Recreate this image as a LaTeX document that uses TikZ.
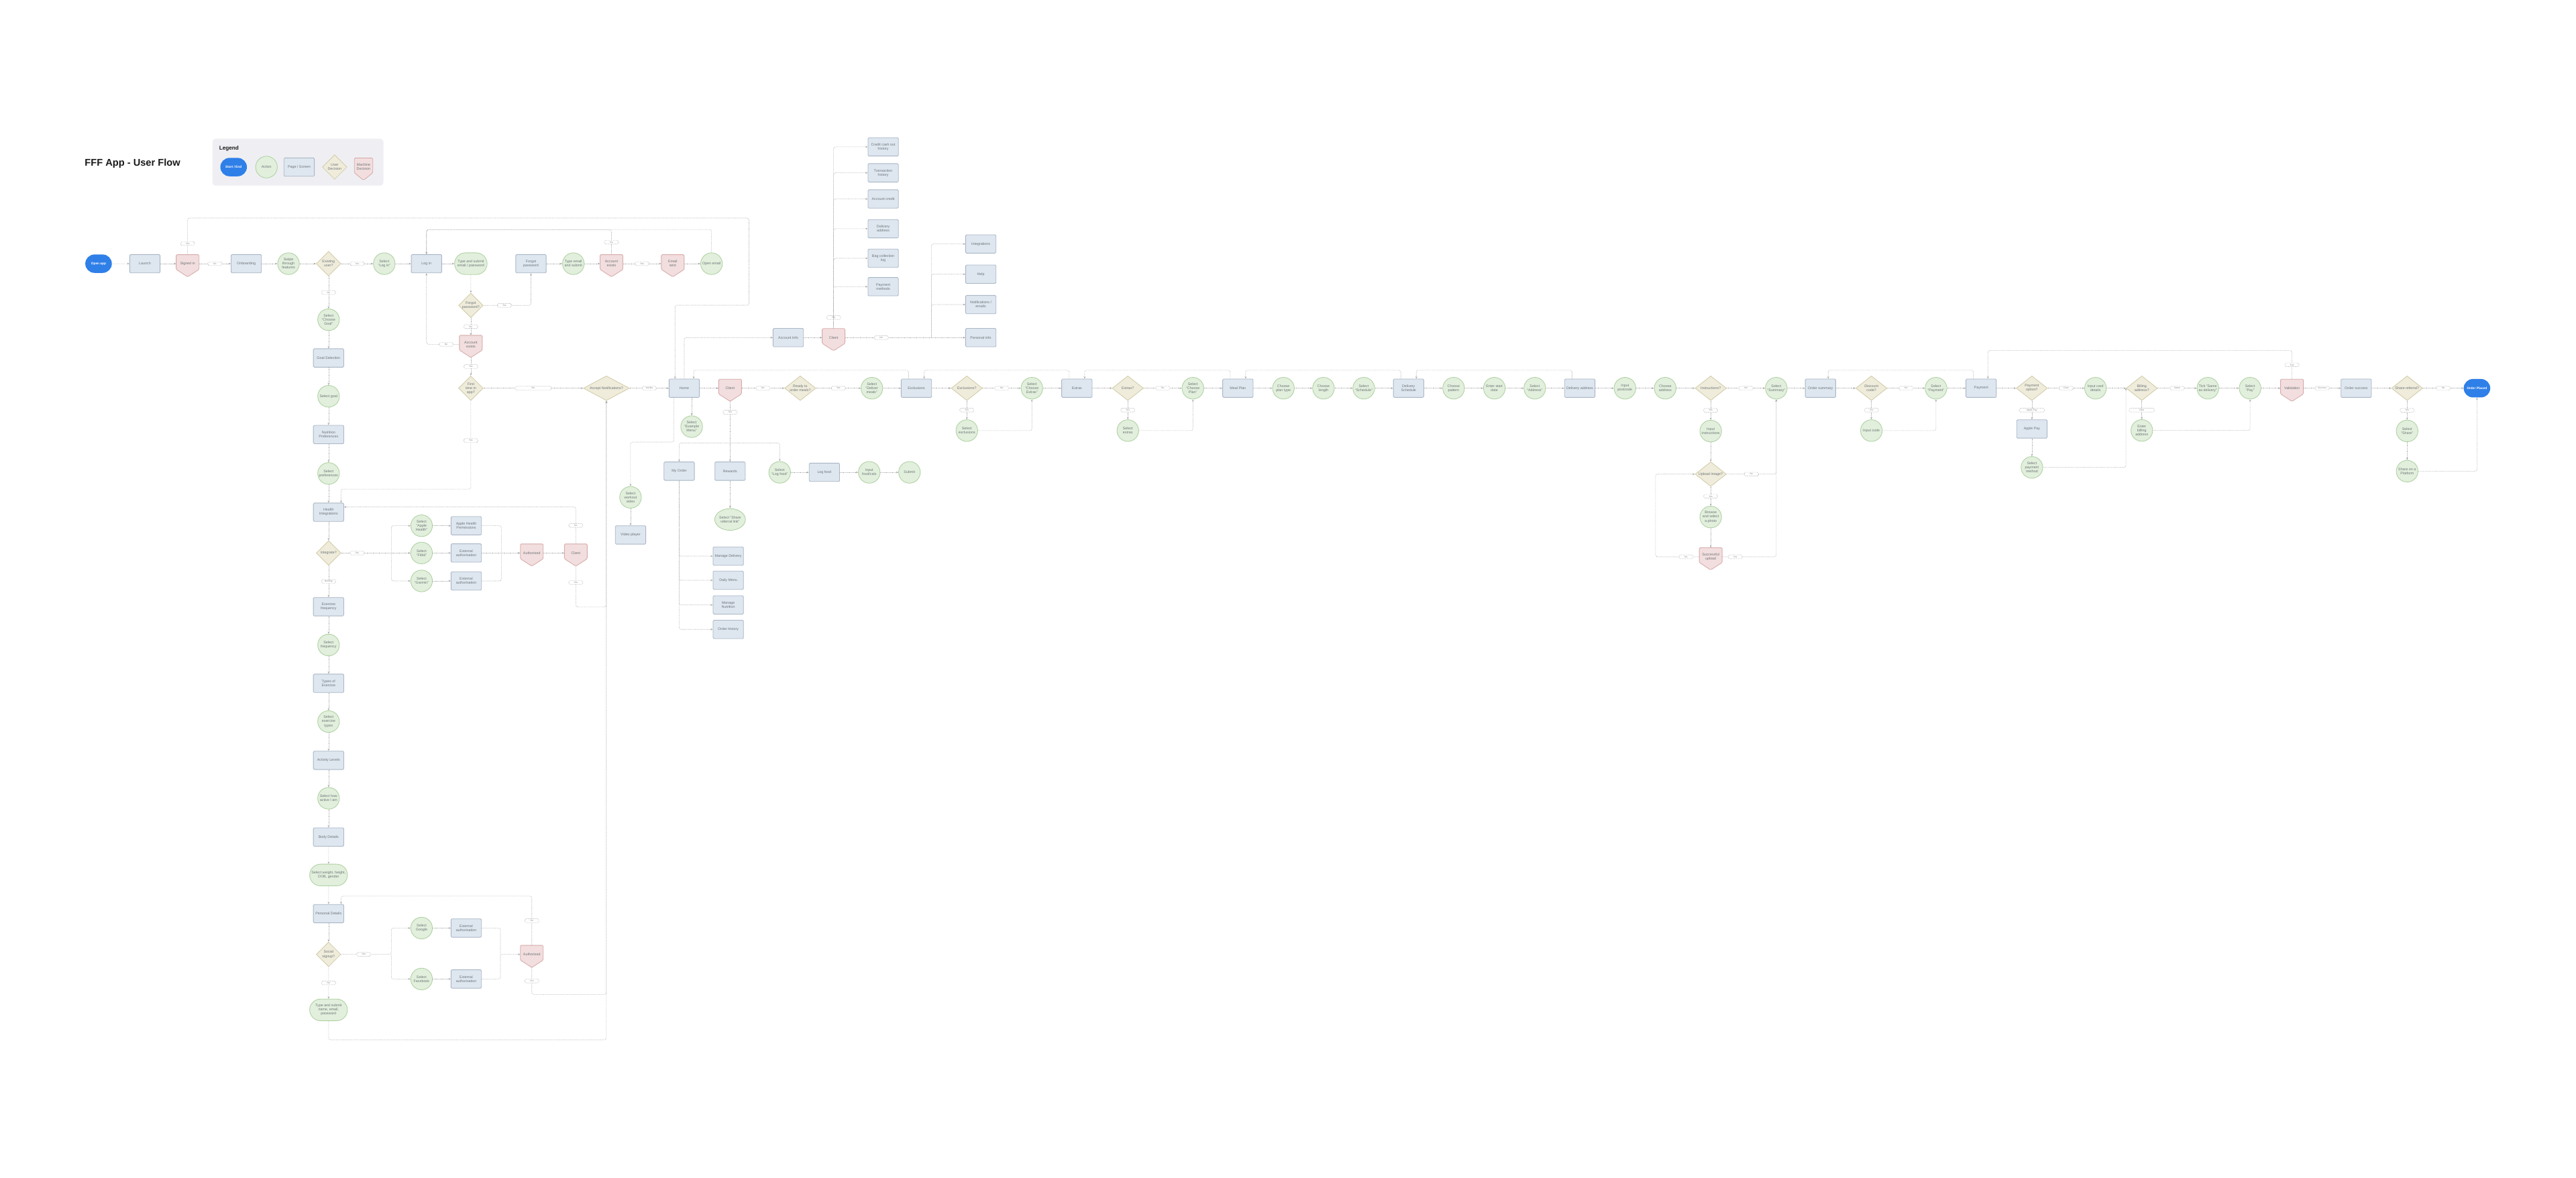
\documentclass[tikz,border=0pt]{standalone}
\usepackage{fontspec}
\setmainfont{Liberation Sans}
\usetikzlibrary{shapes.geometric,shapes.misc,arrows.meta,calc}
\definecolor{pagefill}{HTML}{DEE6EF}
\definecolor{pageline}{HTML}{A9B7C6}
\definecolor{actfill}{HTML}{E1EFDC}
\definecolor{actline}{HTML}{AFD1A2}
\definecolor{udecfill}{HTML}{EFECDB}
\definecolor{udecline}{HTML}{D2CCA9}
\definecolor{machfill}{HTML}{F2DEDE}
\definecolor{machline}{HTML}{D8AAAA}
\definecolor{startfill}{HTML}{2F7FE8}
\definecolor{linecol}{HTML}{A8A8A8}
\definecolor{txtcol}{HTML}{6F757A}
\definecolor{legendfill}{HTML}{EFEFF3}
\newcommand{\machnode}[4][6.95]{%
  \filldraw[machshape] ($(#3)+(-#1,-5.5)$) -- ($(#3)+(#1,-5.5)$) -- ($(#3)+(#1,3.5)$)
    -- ($(#3)+(0,8)$) -- ($(#3)+(-#1,3.5)$) -- cycle;
  \node[mach] (#2) at (#3) {#4};
  \coordinate (#2-tip) at ($(#3)+(0,8)$);}

\begin{document}
\begin{tikzpicture}[x=1mm,y=-1mm,
  every node/.style={font=\fontsize{6.2}{7}\selectfont, text=txtcol, align=center},
  page/.style={draw=pageline, fill=pagefill, rounded corners=0.6mm, minimum width=18.5mm, minimum height=11.2mm, inner sep=0.5mm, line width=1pt},
  act/.style={circle, draw=actline, fill=actfill, minimum size=13.2mm, inner sep=0.2mm, line width=1pt},
  actwide/.style={rounded rectangle, draw=actline, fill=actfill, minimum width=20.8mm, minimum height=13.2mm, inner sep=0.5mm, line width=1pt},
  actoval/.style={ellipse, draw=actline, fill=actfill, minimum width=16.6mm, minimum height=13.2mm, inner sep=0pt, line width=1pt},
  udec/.style={diamond, draw=udecline, fill=udecfill, minimum width=15mm, minimum height=15mm, inner sep=0pt, aspect=1, line width=1pt},
  udecw/.style={udec, minimum width=19mm, aspect=1.27},
  mach/.style={minimum width=13.9mm, minimum height=11mm, inner sep=0pt},
  machshape/.style={draw=machline, fill=machfill, rounded corners=0.6mm, line width=1pt},
  startend/.style={rounded rectangle, fill=startfill, text=white, font=\bfseries\fontsize{5.6}{6.5}\selectfont, minimum width=18.5mm, minimum height=11.2mm},
  lbl/.style={draw=linecol, dash pattern=on 0.8pt off 0.8pt, rounded corners=0.8mm, fill=white, font=\fontsize{4}{4.5}\selectfont, text=linecol!80!black, minimum width=8.6mm, minimum height=2.3mm, inner sep=0.2mm, line width=0.5pt},
  flow/.style={draw=linecol, line width=0.7pt, dash pattern=on 0.9pt off 1.2pt, rounded corners=1.2mm, ->},
  >={Stealth[length=1.4mm,width=1.1mm]}]
\fill[white] (0,0) rectangle (1568,717);
\useasboundingbox (0,0) rectangle (1568,717);

\node[anchor=west, font=\bfseries\fontsize{17}{20}\selectfont, text=black!90] (title) at (50.4,99.4) {FFF App - User Flow};
\fill[legendfill, rounded corners=2mm] (129.3,84.4) rectangle (233.4,113);
\node[anchor=west, font=\bfseries\fontsize{9.5}{11}\selectfont, text=black!90] (legend) at (132.2,90.4) {Legend};
\node[startend] (lgstart) at (142.2,101.7) {Start / End};
\node[act] (lgact) at (162.2,101.7) {Action};
\node[page] (lgpage) at (182.1,101.7) {Page / Screen};
\node[udec] (lgudec) at (203.7,101.7) {User\\Decision};
\machnode[5.6]{lgmach}{221.3,101.7}{Machine\\Decision}

\node[startend] (openapp) at (60,160.5) {Open app};
\node[page] (launch) at (88.2,160.5) {Launch};
\machnode{signedin}{114.2,160.5}{Signed in}
\node[page] (onboard) at (149.9,160.5) {Onboarding};
\node[act] (swipe) at (175.6,160.5) {Swipe\\through\\features};
\node[udec] (existing) at (200,160.5) {Existing\\user?};
\node[act] (sellogin) at (233.9,160.5) {Select\\“Log in”};
\node[page] (login) at (259.6,160.5) {Log in};
\node[actwide] (typelogin) at (286.6,160.5) {Type and submit\\email / password};
\node[page] (forgotpw) at (323.2,160.5) {Forgot\\password};
\node[act] (typereset) at (349,160.5) {Type email\\and submit};
\machnode{accexists}{372.2,160.5}{Account\\exists}
\machnode{emailsent}{409.5,160.5}{Email\\sent}
\node[act] (openemail) at (433.1,160.5) {Open email};
\node[udec] (forgotq) at (286.6,185.9) {Forgot\\password?};
\machnode{accexists2}{286.6,209.6}{Account\\exists}
\node[udec] (firsttime) at (286.6,236.3) {First\\time in\\app?};
\node[udec, minimum width=28mm, aspect=1.87] (accept) at (369.1,236.3) {Accept Notifications?};

\node[act] (selgoal) at (200,194.6) {Select\\“Choose\\Goal”};
\node[page] (goalsel) at (200,217.9) {Goal Selection};
\node[act] (pickgoal) at (200,241.2) {Select goal};
\node[page] (nutrition) at (200,264.5) {Nutrition\\Preferences};
\node[act] (pickpref) at (200,288.2) {Select\\preferences};
\node[page] (health) at (200,311.8) {Health\\Integrations};
\node[udec] (integrate) at (200,336.6) {Integrate?};
\node[page] (exfreq) at (200,369.3) {Exercise\\frequency};
\node[act] (pickfreq) at (200,392.6) {Select\\frequency};
\node[page] (extypes) at (200,415.9) {Types of\\Exercise};
\node[act] (picktypes) at (200,439.2) {Select\\exercise\\types};
\node[page] (activity) at (200,462.8) {Activity Levels};
\node[act] (pickactive) at (200,485.9) {Select how\\active I am};
\node[page] (body) at (200,509.5) {Body Details};
\node[actwide, minimum width=24mm] (pickbody) at (200,532.6) {Select weight, height,\\DOB, gender};
\node[page] (personal) at (200,556.1) {Personal Details};
\node[udec] (social) at (200,580.9) {Social\\signup?};
\node[actwide, minimum width=24mm] (typename) at (200,614.7) {Type and submit\\name, email,\\password};

\node[act] (selapple) at (256.6,320) {Select\\“Apple\\Health”};
\node[act] (selfitbit) at (256.6,336.6) {Select\\“Fitbit”};
\node[act] (selgarmin) at (256.6,353.6) {Select\\“Garmin”};
\node[page] (applehp) at (283.8,320) {Apple Health\\Permissions};
\node[page] (extfitbit) at (283.8,336.6) {External\\authorisation};
\node[page] (extgarmin) at (283.8,353.6) {External\\authorisation};
\machnode{authint}{323.7,336.6}{Authorised}
\machnode{clientint}{350.5,336.6}{Client}
\node[act] (selgoogle) at (256.6,564.9) {Select\\Google};
\node[act] (selfb) at (256.6,595.9) {Select\\Facebook};
\node[page] (extgoogle) at (283.8,564.9) {External\\authorisation};
\node[page] (extfb) at (283.8,595.9) {External\\authorisation};
\machnode{authsoc}{323.7,580.9}{Authorised}

\node[page] (home) at (416.5,236.3) {Home};
\machnode{clienthome}{444.4,236.3}{Client}
\node[udecw] (readyq) at (487.1,236.3) {Ready to\\order meals?};
\node[act] (seldeliver) at (530.7,236.3) {Select\\“Deliver\\meals”};
\node[act] (selexample) at (421,259.7) {Select\\“Example\\Menu”};
\node[act] (selworkout) at (383.8,302.7) {Select\\workout\\video};
\node[page] (video) at (383.8,325.6) {Video player};
\node[page] (myorder) at (413.4,286.8) {My Order};
\node[page] (rewards) at (444.4,286.8) {Rewards};
\node[act] (sellogfood) at (474.6,287.5) {Select\\“Log food”};
\node[page] (logfood) at (501.8,287.5) {Log food};
\node[act] (inputfood) at (529.1,287.5) {Input\\food/cals};
\node[act] (submit) at (553.6,287.5) {Submit};
\node[actoval] (selshare) at (444.4,316.2) {Select “Share\\referral link”};
\node[page] (managedel) at (443.3,338.5) {Manage Delivery};
\node[page] (dailymenu) at (443.3,353.2) {Daily Menu};
\node[page] (managenut) at (443.3,368.2) {Manage\\Nutrition};
\node[page] (orderhist) at (443.3,383.1) {Order history};

\node[page] (accinfo) at (479.8,205.5) {Account Info};
\machnode{clientacc}{507.4,205.5}{Client}
\node[page] (cashout) at (537.6,89.4) {Credit cash out\\history};
\node[page] (transhist) at (537.6,105.2) {Transaction\\history};
\node[page] (acccredit) at (537.6,121.1) {Account credit};
\node[page] (deladdress) at (537.6,139.2) {Delivery\\address};
\node[page] (baglog) at (537.6,157.2) {Bag collection\\log};
\node[page] (paymethods) at (537.6,174.5) {Payment\\methods};
\node[page] (integrations) at (597,148.5) {Integrations};
\node[page] (help) at (597,166.9) {Help};
\node[page] (notif) at (597,185.4) {Notifications /\\emails};
\node[page] (personalinfo) at (597,205.5) {Personal info};

\node[page] (exclusions) at (557.8,236.3) {Exclusions};
\node[udecw] (exclq) at (588.5,236.3) {Exclusions?};
\node[act] (selextras) at (628.1,236.3) {Select\\“Choose\\Extras”};
\node[act] (pickexcl) at (588.5,262.1) {Select\\exclusions};
\node[page] (extras) at (655.5,236.3) {Extras};
\node[udecw] (extrasq) at (686.5,236.3) {Extras?};
\node[act] (selplan) at (726.1,236.3) {Select\\“Choose\\Plan”};
\node[act] (pickextras) at (686.5,262.1) {Select\\extras};
\node[page] (mealplan) at (753.5,236.3) {Meal Plan};
\node[act] (plantype) at (781.2,236.3) {Choose\\plan type};
\node[act] (planlen) at (805.6,236.3) {Choose\\length};
\node[act] (selsched) at (830.1,236.3) {Select\\“Schedule”};
\node[page] (delsched) at (857.4,236.3) {Delivery\\Schedule};
\node[act] (pattern) at (884.8,236.3) {Choose\\pattern};
\node[act] (startdate) at (909.6,236.3) {Enter start\\date};
\node[act] (seladdr) at (934.2,236.3) {Select\\“Address”};
\node[page] (deladdr) at (961.6,236.3) {Delivery address};
\node[act] (postcode) at (989.1,236.3) {Input\\postcode};
\node[act] (chooseaddr) at (1013.6,236.3) {Choose\\address};
\node[udecw] (instrq) at (1041.3,236.3) {Instructions?};
\node[act] (selsummary) at (1081.2,236.3) {Select\\“Summary”};
\node[act] (inputinstr) at (1041.3,262.4) {Input\\instructions};
\node[udecw] (uploadq) at (1041.3,288.6) {Upload image?};
\node[act] (browse) at (1041.3,314.7) {Browse\\and select\\a photo};
\machnode{upload}{1041.3,338.9}{Successful\\upload}
\node[page] (ordersum) at (1108.1,236.3) {Order summary};
\node[udecw] (discq) at (1139.1,236.3) {Discount\\code?};
\node[act] (selpayment) at (1178.4,236.3) {Select\\“Payment”};
\node[act] (inputcode) at (1139.1,262.1) {Input code};
\node[page] (payment) at (1205.9,236.3) {Payment};
\node[udecw] (payq) at (1236.8,236.3) {Payment\\option?};
\node[act] (carddetails) at (1275.5,236.3) {Input card\\details};
\node[page] (applepay) at (1236.8,261.1) {Apple Pay};
\node[act] (selpaymeth) at (1236.8,284.5) {Select\\payment\\method};
\node[udecw] (billq) at (1303.7,236.3) {Billing\\address?};
\node[act] (enterbill) at (1303.7,262) {Enter\\billing\\address};
\node[act] (tick) at (1343.9,236.3) {Tick “Same\\as delivery”};
\node[act] (selpay) at (1369.6,236.3) {Select\\“Pay”};
\machnode{validation}{1395.1,236.3}{Validation}
\node[page] (ordersuccess) at (1434.2,236.3) {Order success};
\node[udecw] (shareq) at (1465.2,236.3) {Share referral?};
\node[startend] (placed) at (1507.7,236.3) {Order Placed};
\node[act] (selshareapp) at (1465.2,262.3) {Select\\“Share”};
\node[act] (shareplat) at (1465.2,286.8) {Share on a\\Platform};

\draw[flow] (openapp) -- (launch);
\draw[flow] (launch) -- (signedin);
\draw[flow] (signedin) -- node[lbl]{No} (onboard);
\draw[flow] (onboard) -- (swipe);
\draw[flow] (swipe) -- (existing);
\draw[flow] (existing) -- node[lbl]{Yes} (sellogin);
\draw[flow] (sellogin) -- (login);
\draw[flow] (login) -- (typelogin);
\draw[flow] (typelogin) -- (forgotq);
\draw[flow] (forgotq) -| node[lbl,pos=.22]{Yes} (forgotpw);
\draw[flow] (forgotq) -- node[lbl]{No} (accexists2);
\draw[flow] (accexists2) -| node[lbl,pos=.2]{No} (login);
\draw[flow] (accexists2-tip) -- node[lbl]{Yes} (firsttime);
\draw[flow] (forgotpw) -- (typereset);
\draw[flow] (typereset) -- (accexists);
\draw[flow] (accexists) -- node[lbl]{Yes} (emailsent);
\draw[flow] (emailsent) -- (openemail);
\draw[flow] (accexists.north) -- node[lbl]{No} ++(0,-15) -| (login.north);
\draw[flow] (openemail.north) |- ($(login.north)+(0,-15)$) -- (login.north);
\draw[flow] (signedin.north) -- node[lbl,pos=.3]{Yes} (114.2,132.7) -| (455.9,185.8) -| ($(home.north)+(-5.6,0)$);

\draw[flow] (existing) -- node[lbl]{No} (selgoal);
\foreach \a/\b in {selgoal/goalsel, goalsel/pickgoal, pickgoal/nutrition, nutrition/pickpref, pickpref/health,
  health/integrate, exfreq/pickfreq, pickfreq/extypes, extypes/picktypes, picktypes/activity, activity/pickactive,
  pickactive/body, body/pickbody, pickbody/personal, personal/social}
  \draw[flow] (\a) -- (\b);
\draw[flow] (integrate) -- node[lbl]{No/Skip} (exfreq);
\draw[flow] (social) -- node[lbl]{No} (typename);
\draw[flow] (firsttime) -- node[lbl,pos=.45]{Yes} (286.6,297.7) -| ($(health.north)+(7.6,0)$);
\draw[flow] (firsttime) -- node[lbl, minimum width=22mm]{No} (accept);
\draw[flow] (accept) -- node[lbl]{Yes/No} (home);

\coordinate (intsplit) at (238.2,336.6);
\draw[flow] (integrate) -- node[lbl,pos=.23]{Yes} (selfitbit);
\draw[flow] (intsplit) |- (selapple);
\draw[flow] (intsplit) |- (selgarmin);
\draw[flow] (selapple) -- (applehp);
\draw[flow] (selfitbit) -- (extfitbit);
\draw[flow] (selgarmin) -- (extgarmin);
\coordinate (intjoin) at (305.2,336.6);
\draw[flow,-] (applehp) -| (intjoin);
\draw[flow,-] (extgarmin) -| (intjoin);
\draw[flow] (extfitbit) -- (authint);
\draw[flow] (authint) -- (clientint);
\draw[flow] (clientint.north) -- node[lbl]{No} (350.5,308.6) -- ($(health.east)+(0,-3.2)$);
\draw[flow] (clientint-tip) -- node[lbl,pos=.4]{Yes} (350.5,369.5) -| (accept.south);

\coordinate (socsplit) at (238.2,580.9);
\draw[flow] (social) -- node[lbl,pos=.45]{Yes} (socsplit) |- (selgoogle);
\draw[flow] (socsplit) |- (selfb);
\draw[flow] (selgoogle) -- (extgoogle);
\draw[flow] (selfb) -- (extfb);
\coordinate (socjoin) at (304.6,580.9);
\draw[flow,-] (extgoogle) -| (socjoin);
\draw[flow] (extfb) -| (socjoin) -- (authsoc);
\draw[flow] (authsoc.north) -- node[lbl]{No} (323.7,545.5) -| ($(personal.north)+(7.6,0)$);
\draw[flow] (authsoc-tip) -- node[lbl]{Yes} (323.7,605.3) -| (accept.south);
\draw[flow] (typename.south) -- (200,632.9) -| (accept.south);

\draw[flow] (home) -- (clienthome);
\draw[flow] (clienthome) -- node[lbl]{No} (readyq);
\draw[flow] (readyq) -- node[lbl]{Yes} (seldeliver);
\draw[flow] (seldeliver) -- (exclusions);
\draw[flow] (home.south -| selexample) -- (selexample);
\draw[flow] ($(home.south)+(-6.4,0)$) |- (383.8,269.1) -- (selworkout);
\draw[flow] (selworkout) -- (video);
\draw[flow] (clienthome-tip) -- node[lbl,pos=.18]{Yes} (rewards);
\coordinate (homesplit) at (444.4,269.6);
\draw[flow] (homesplit) -| (myorder.north);
\draw[flow] (homesplit) -| (sellogfood.north);
\draw[flow] (sellogfood) -- (logfood);
\draw[flow] (logfood) -- (inputfood);
\draw[flow] (inputfood) -- (submit);
\draw[flow] (rewards) -- (selshare);
\foreach \t in {managedel, dailymenu, managenut, orderhist}
  \draw[flow] (myorder.south) |- (\t);
\draw[flow] (home.north) |- (accinfo);
\draw[flow] (accinfo) -- (clientacc);
\draw[flow] (clientacc.north) |- node[lbl,pos=.03]{Yes} (cashout);
\foreach \t in {transhist, acccredit, deladdress, baglog, paymethods}
  \draw[flow] (clientacc.north) |- (\t);
\coordinate (accsplit) at (566.9,205.5);
\draw[flow] (clientacc) -- node[lbl,pos=.3]{No} (personalinfo);
\foreach \t in {integrations, help, notif}
  \draw[flow] (accsplit) |- (\t);

\draw[flow] (exclusions) -- (exclq);
\draw[flow] (exclq) -- node[lbl]{No} (selextras);
\draw[flow] (exclq) -- node[lbl]{Yes} (pickexcl);
\draw[flow] (pickexcl) -| (selextras);
\draw[flow] (selextras) -- (extras);
\draw[flow] (extras) -- (extrasq);
\draw[flow] (extrasq) -- node[lbl]{No} (selplan);
\draw[flow] (extrasq) -- node[lbl]{Yes} (pickextras);
\draw[flow] (pickextras) -| (selplan);
\foreach \a/\b in {selplan/mealplan, mealplan/plantype, plantype/planlen, planlen/selsched, selsched/delsched,
  delsched/pattern, pattern/startdate, startdate/seladdr, seladdr/deladdr, deladdr/postcode, postcode/chooseaddr,
  chooseaddr/instrq, selsummary/ordersum, ordersum/discq, selpayment/payment, payment/payq, carddetails/billq,
  tick/selpay, selpay/validation, ordersuccess/shareq}
  \draw[flow] (\a) -- (\b);
\draw[flow] (instrq) -- node[lbl]{No} (selsummary);
\draw[flow] (instrq) -- node[lbl]{Yes} (inputinstr);
\draw[flow] (inputinstr) -- (uploadq);
\draw[flow] (uploadq) -- node[lbl]{Yes} (browse);
\draw[flow] (browse) -- (upload);
\draw[flow] (uploadq) -| node[lbl,pos=.25]{No} (selsummary);
\draw[flow] (upload) -| node[lbl,pos=.12]{Yes} (selsummary);
\draw[flow] (upload) -- node[lbl,pos=.3]{No} (1007.7,338.9) |- (uploadq);
\draw[flow] (discq) -- node[lbl]{No} (selpayment);
\draw[flow] (discq) -- node[lbl]{Yes} (inputcode);
\draw[flow] (inputcode) -| (selpayment);
\draw[flow] (payq) -- node[lbl]{Card} (carddetails);
\draw[flow] (payq) -- node[lbl, minimum width=15.5mm]{Apple Pay} (applepay);
\draw[flow] (applepay) -- (selpaymeth);
\draw[flow] (selpaymeth) -| (billq.west);
\draw[flow] (billq) -- node[lbl]{Same} (tick);
\draw[flow] (billq) -- node[lbl, minimum width=15.5mm]{New} (enterbill);
\draw[flow] (enterbill) -| (selpay);
\draw[flow] (validation.north) -- node[lbl]{Fail} (1395.1,213.4) -| ($(payment.north)+(4.1,0)$);
\draw[flow] (validation) -- node[lbl]{Success} (ordersuccess);
\draw[flow] (shareq) -- node[lbl]{No} (placed);
\draw[flow] (shareq) -- node[lbl]{Yes} (selshareapp);
\draw[flow] (selshareapp) -- (shareplat);
\draw[flow] (shareplat) -| (placed);

\draw[flow] ($(exclusions.north)+(-4.7,0)$) -- ++(0,-5.2) -| ($(home.north)+(5.7,0)$);
\foreach \a/\b in {extras/exclusions, mealplan/extras, delsched/mealplan, deladdr/delsched, payment/ordersum}
  \draw[flow] ($(\a.north)+(-4.7,0)$) -- ++(0,-5.2) -| ($(\b.north)+(4.7,0)$);
\end{tikzpicture}
\end{document}
